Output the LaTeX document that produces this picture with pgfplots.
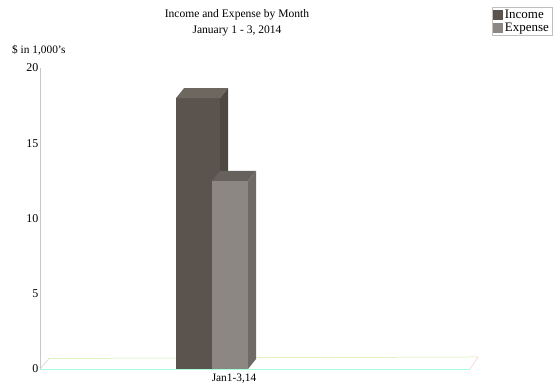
\documentclass[border=0pt]{standalone}
\usepackage{pgfplots}
\pgfplotsset{compat=1.18}
\usepackage{fontspec}
\setmainfont{Liberation Serif}
\definecolor{incF}{HTML}{5B544E}
\definecolor{incT}{HTML}{6E6760}
\definecolor{incS}{HTML}{4E4843}
\definecolor{expF}{HTML}{8C8782}
\definecolor{expT}{HTML}{66615C}
\definecolor{expS}{HTML}{6F6A65}
\begin{document}
\begin{tikzpicture}
\useasboundingbox (0,0) rectangle (555bp,387bp);
\begin{axis}[
  at={(40bp,18bp)}, anchor=south west,
  scale only axis, width=430bp, height=301bp,
  xmin=0, xmax=430, ymin=0, ymax=20,
  clip=false,
  axis x line=bottom, axis y line=left,
  axis line style={-, draw=black!22, line width=0.6pt},
  x axis line style={draw=none},
  major tick length=0pt,
  ytick={0,5,10,15,20},
  xtick={194}, xticklabels={Jan1-3{,}14},
  tick label style={font=\fontsize{12}{14}\selectfont},
  xticklabel style={yshift=-1bp, font=\fontsize{11.4}{13}\selectfont},
  /pgf/number format/assume math mode=true,
  yticklabel style={inner xsep=1.5bp},
  legend style={at={(axis description cs:1.1907,1.2027)}, anchor=north east,
    draw=black!25, line width=0.4pt, font=\fontsize{13}{14}\selectfont,
    inner sep=1bp, row sep=-1.5bp, legend cell align=left},
  legend image code/.code={\fill[#1, draw=none] (0bp,-5bp) rectangle (10bp,5bp);},
]
% floor
\draw[draw=green!40!cyan!35, line width=0.5pt] (axis cs:0,0) -- (axis cs:430,0);
\draw[draw=black!20, line width=0.5pt] (axis cs:0,0) -- (axis cs:9,0.7);
\draw[draw=yellow!50!green!40, line width=0.5pt] (axis cs:9,0.7) -- (axis cs:438,0.8);
\draw[draw=magenta!25, line width=0.5pt] (axis cs:430,0) -- (axis cs:438,0.8);
% income
\addplot[ybar, bar width=44, bar shift=0pt, fill=incF, draw=none]
  coordinates {(158,18)};
\addlegendentry{Income}
\fill[incT] (axis cs:136,18) -- (axis cs:144,18.66) -- (axis cs:188,18.66) -- (axis cs:180,18) -- cycle;
\fill[incS] (axis cs:180,0) -- (axis cs:188,0.66) -- (axis cs:188,18.66) -- (axis cs:180,18) -- cycle;
% expense
\addplot[ybar, bar width=36, bar shift=0pt, fill=expF, draw=none]
  coordinates {(190,12.5)};
\addlegendentry{Expense}
\fill[expT] (axis cs:172,12.5) -- (axis cs:180,13.16) -- (axis cs:216,13.16) -- (axis cs:208,12.5) -- cycle;
\fill[expS] (axis cs:208,0) -- (axis cs:216,0.66) -- (axis cs:216,13.16) -- (axis cs:208,12.5) -- cycle;
\end{axis}
\node[anchor=west, font=\fontsize{11.4}{13}\selectfont, inner sep=0pt] at (12bp,337bp) {\$ in 1,000's};
\node[font=\fontsize{11.6}{14}\selectfont, inner sep=0pt] at (237bp,372bp) {Income and Expense by Month};
\node[font=\fontsize{11.6}{14}\selectfont, inner sep=0pt] at (237bp,356bp) {January 1 - 3, 2014};
\end{tikzpicture}
\end{document}
